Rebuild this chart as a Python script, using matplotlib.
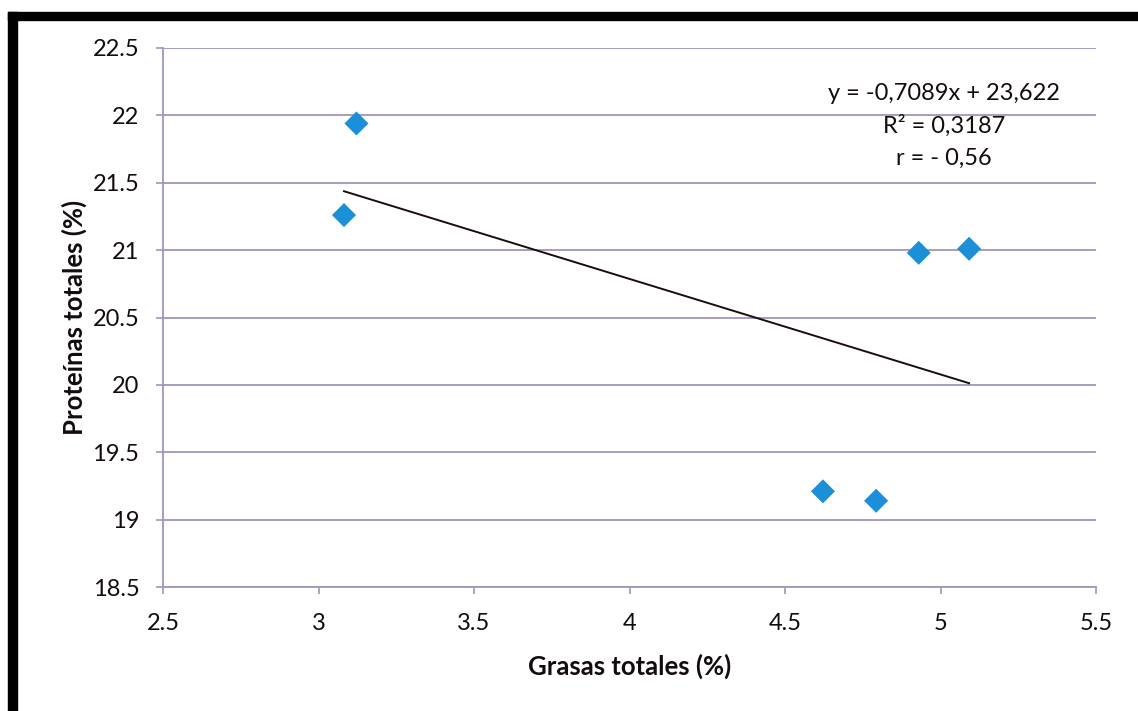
import matplotlib
matplotlib.use("Agg")
import matplotlib.pyplot as plt
from matplotlib.patches import Rectangle
import numpy as np

# Fat vs protein content of the samples
grasas = [3.122, 3.082, 4.930, 5.092, 4.622, 4.793]
proteinas = [21.94, 21.26, 20.98, 21.01, 19.21, 19.14]

# Linear trend reported on the chart
pendiente = -0.7089
intercepto = 23.622

x_ticks = [2.5, 3, 3.5, 4, 4.5, 5, 5.5]
x_tick_labels = ["2.5", "3", "3.5", "4", "4.5", "5", "5.5"]
y_ticks = [18.5, 19, 19.5, 20, 20.5, 21, 21.5, 22, 22.5]
y_tick_labels = ["18.5", "19", "19.5", "20", "20.5", "21", "21.5", "22", "22.5"]

ecuacion = ["y = -0,7089x + 23,622", "R² = 0,3187", "r = - 0,56"]

W, H = 1138, 711
fig = plt.figure(figsize=(W / 100, H / 100), dpi=100)
fig.patch.set_facecolor("white")

plt.rcParams["font.family"] = ["Lato", "DejaVu Sans"]

ax = fig.add_axes([163 / W, 1 - 587 / H, (1096 - 163) / W, (587 - 48) / H])
ax.set_facecolor("white")

grid_color = "#a294bd"
text_color = "#140c0c"

ax.set_xlim(2.5, 5.5)
ax.set_ylim(18.5, 22.5)

for yv in y_ticks:
    ax.axhline(yv, color=grid_color, lw=1.3, zorder=1)

for s in ["top", "right"]:
    ax.spines[s].set_visible(False)
ax.spines["left"].set_color(grid_color)
ax.spines["left"].set_linewidth(1.3)
ax.spines["bottom"].set_color(grid_color)
ax.spines["bottom"].set_linewidth(1.3)

ax.set_xticks(x_ticks)
ax.set_xticklabels(x_tick_labels)
ax.set_yticks(y_ticks)
ax.set_yticklabels(y_tick_labels)
ax.tick_params(axis="both", colors=grid_color, labelcolor=text_color,
               labelsize=17, length=5, width=1.2)
ax.tick_params(axis="x", pad=14)
ax.tick_params(axis="y", pad=12)

# Trend line across the range of the data
xs = np.array([min(grasas), max(grasas)])
ax.plot(xs, pendiente * xs + intercepto, color="#1a0e0a", lw=1.4, zorder=3)

ax.scatter(grasas, proteinas, marker="D", s=150, color="#1b8fd8",
           edgecolors="none", zorder=4, clip_on=False)

ax.set_xlabel("Grasas totales (%)", fontsize=18.5, fontweight="bold",
              color=text_color, labelpad=14)
ax.set_ylabel("Proteínas totales (%)", fontsize=18.5, fontweight="bold",
              color=text_color, labelpad=4)

for i, line in enumerate(ecuacion):
    fig.text(944 / W, 1 - (93 + 32.5 * i) / H, line, ha="center", va="center",
             fontsize=17, color=text_color)

# Black frame on the top and left edges
fig.patches.append(Rectangle((8 / W, 0), 9 / W, (H - 12) / H,
                             transform=fig.transFigure, color="black", zorder=10))
fig.patches.append(Rectangle((8 / W, (H - 20) / H), (W - 8) / W, 8 / H,
                             transform=fig.transFigure, color="black", zorder=10))

fig.savefig("out.png", dpi=100, facecolor="white")
